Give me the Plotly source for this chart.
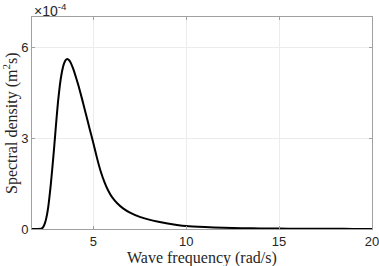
import plotly.graph_objects as go

# Wave frequency (rad/s)
freq = [1.70, 2.00, 2.20, 2.30, 2.40, 2.50, 2.60, 2.70, 2.80, 2.90, 3.00, 3.10, 3.20,
        3.30, 3.40, 3.50, 3.60, 3.70, 3.80, 3.90, 4.00, 4.20, 4.40, 4.60, 4.80,
        5.00, 5.20, 5.40, 5.60, 5.80, 6.00, 6.30, 6.60, 7.00, 7.50, 8.00, 8.50,
        9.00, 9.50, 10.0, 11.0, 12.0, 13.0, 14.0, 15.0, 16.0, 17.0, 18.0, 19.0, 20.0]
# Spectral density (x 1e-4 m^2 s)
dens = [0.0, 0.0, 0.01, 0.06, 0.20, 0.45, 0.85, 1.40, 2.05, 2.75, 3.50, 4.20, 4.75,
        5.15, 5.42, 5.57, 5.61, 5.57, 5.47, 5.32, 5.14, 4.74, 4.28, 3.80, 3.31,
        2.84, 2.34, 1.90, 1.55, 1.27, 1.06, 0.84, 0.68, 0.53, 0.40, 0.31, 0.24,
        0.18, 0.135, 0.10, 0.065, 0.042, 0.028, 0.019, 0.013, 0.009, 0.007, 0.005, 0.004, 0.003]
scale = 1e-4

xticks = [5, 10, 15, 20]
yticks = [0, 3, 6]

fig = go.Figure()
fig.add_trace(go.Scatter(
    x=freq, y=[v * scale for v in dens], mode="lines",
    line=dict(color="black", width=2, shape="spline", smoothing=0.4),
    showlegend=False, hoverinfo="skip"))

axis_common = dict(
    showline=True, linecolor="#a0a0a0", linewidth=1, mirror="ticks",
    ticks="inside", ticklen=3, tickcolor="#a0a0a0",
    showgrid=True, gridcolor="#ececec", gridwidth=1, zeroline=False,
    automargin=False, ticklabeloverflow="allow",
    tickfont=dict(family="Liberation Sans, Arial", size=13, color="#262626"),
)

fig.update_xaxes(range=[1.7, 20], tickvals=xticks, ticktext=[str(t) for t in xticks],
                 **axis_common)
fig.update_yaxes(range=[0, 7e-4], tickvals=[t * scale for t in yticks],
                 ticktext=[str(t) for t in yticks], **axis_common)

title_font = dict(family="Liberation Serif, serif", size=16, color="#262626")
fig.add_annotation(text="Wave frequency (rad/s)", xref="paper", yref="paper",
                   x=0.5, y=0, yshift=-29, xanchor="center", yanchor="middle",
                   showarrow=False, font=title_font)
fig.add_annotation(text="Spectral density (m<sup>2</sup>s)", xref="paper", yref="paper",
                   x=0, y=0.5, xshift=-22, xanchor="center", yanchor="middle",
                   textangle=-90, showarrow=False, font=title_font)

fig.add_annotation(text="×10<sup>-4</sup>", xref="paper", yref="paper", x=0.0, y=1.0,
                   xanchor="left", yanchor="bottom", showarrow=False, yshift=-4,
                   font=dict(family="Liberation Sans, Arial", size=14, color="#262626"))

fig.update_layout(width=379, height=266, margin=dict(l=32, r=7, t=17, b=37),
                  paper_bgcolor="white", plot_bgcolor="white")

fig.write_html("out.html", post_script="document.body.style.margin='0';",
               config={"displayModeBar": False})
